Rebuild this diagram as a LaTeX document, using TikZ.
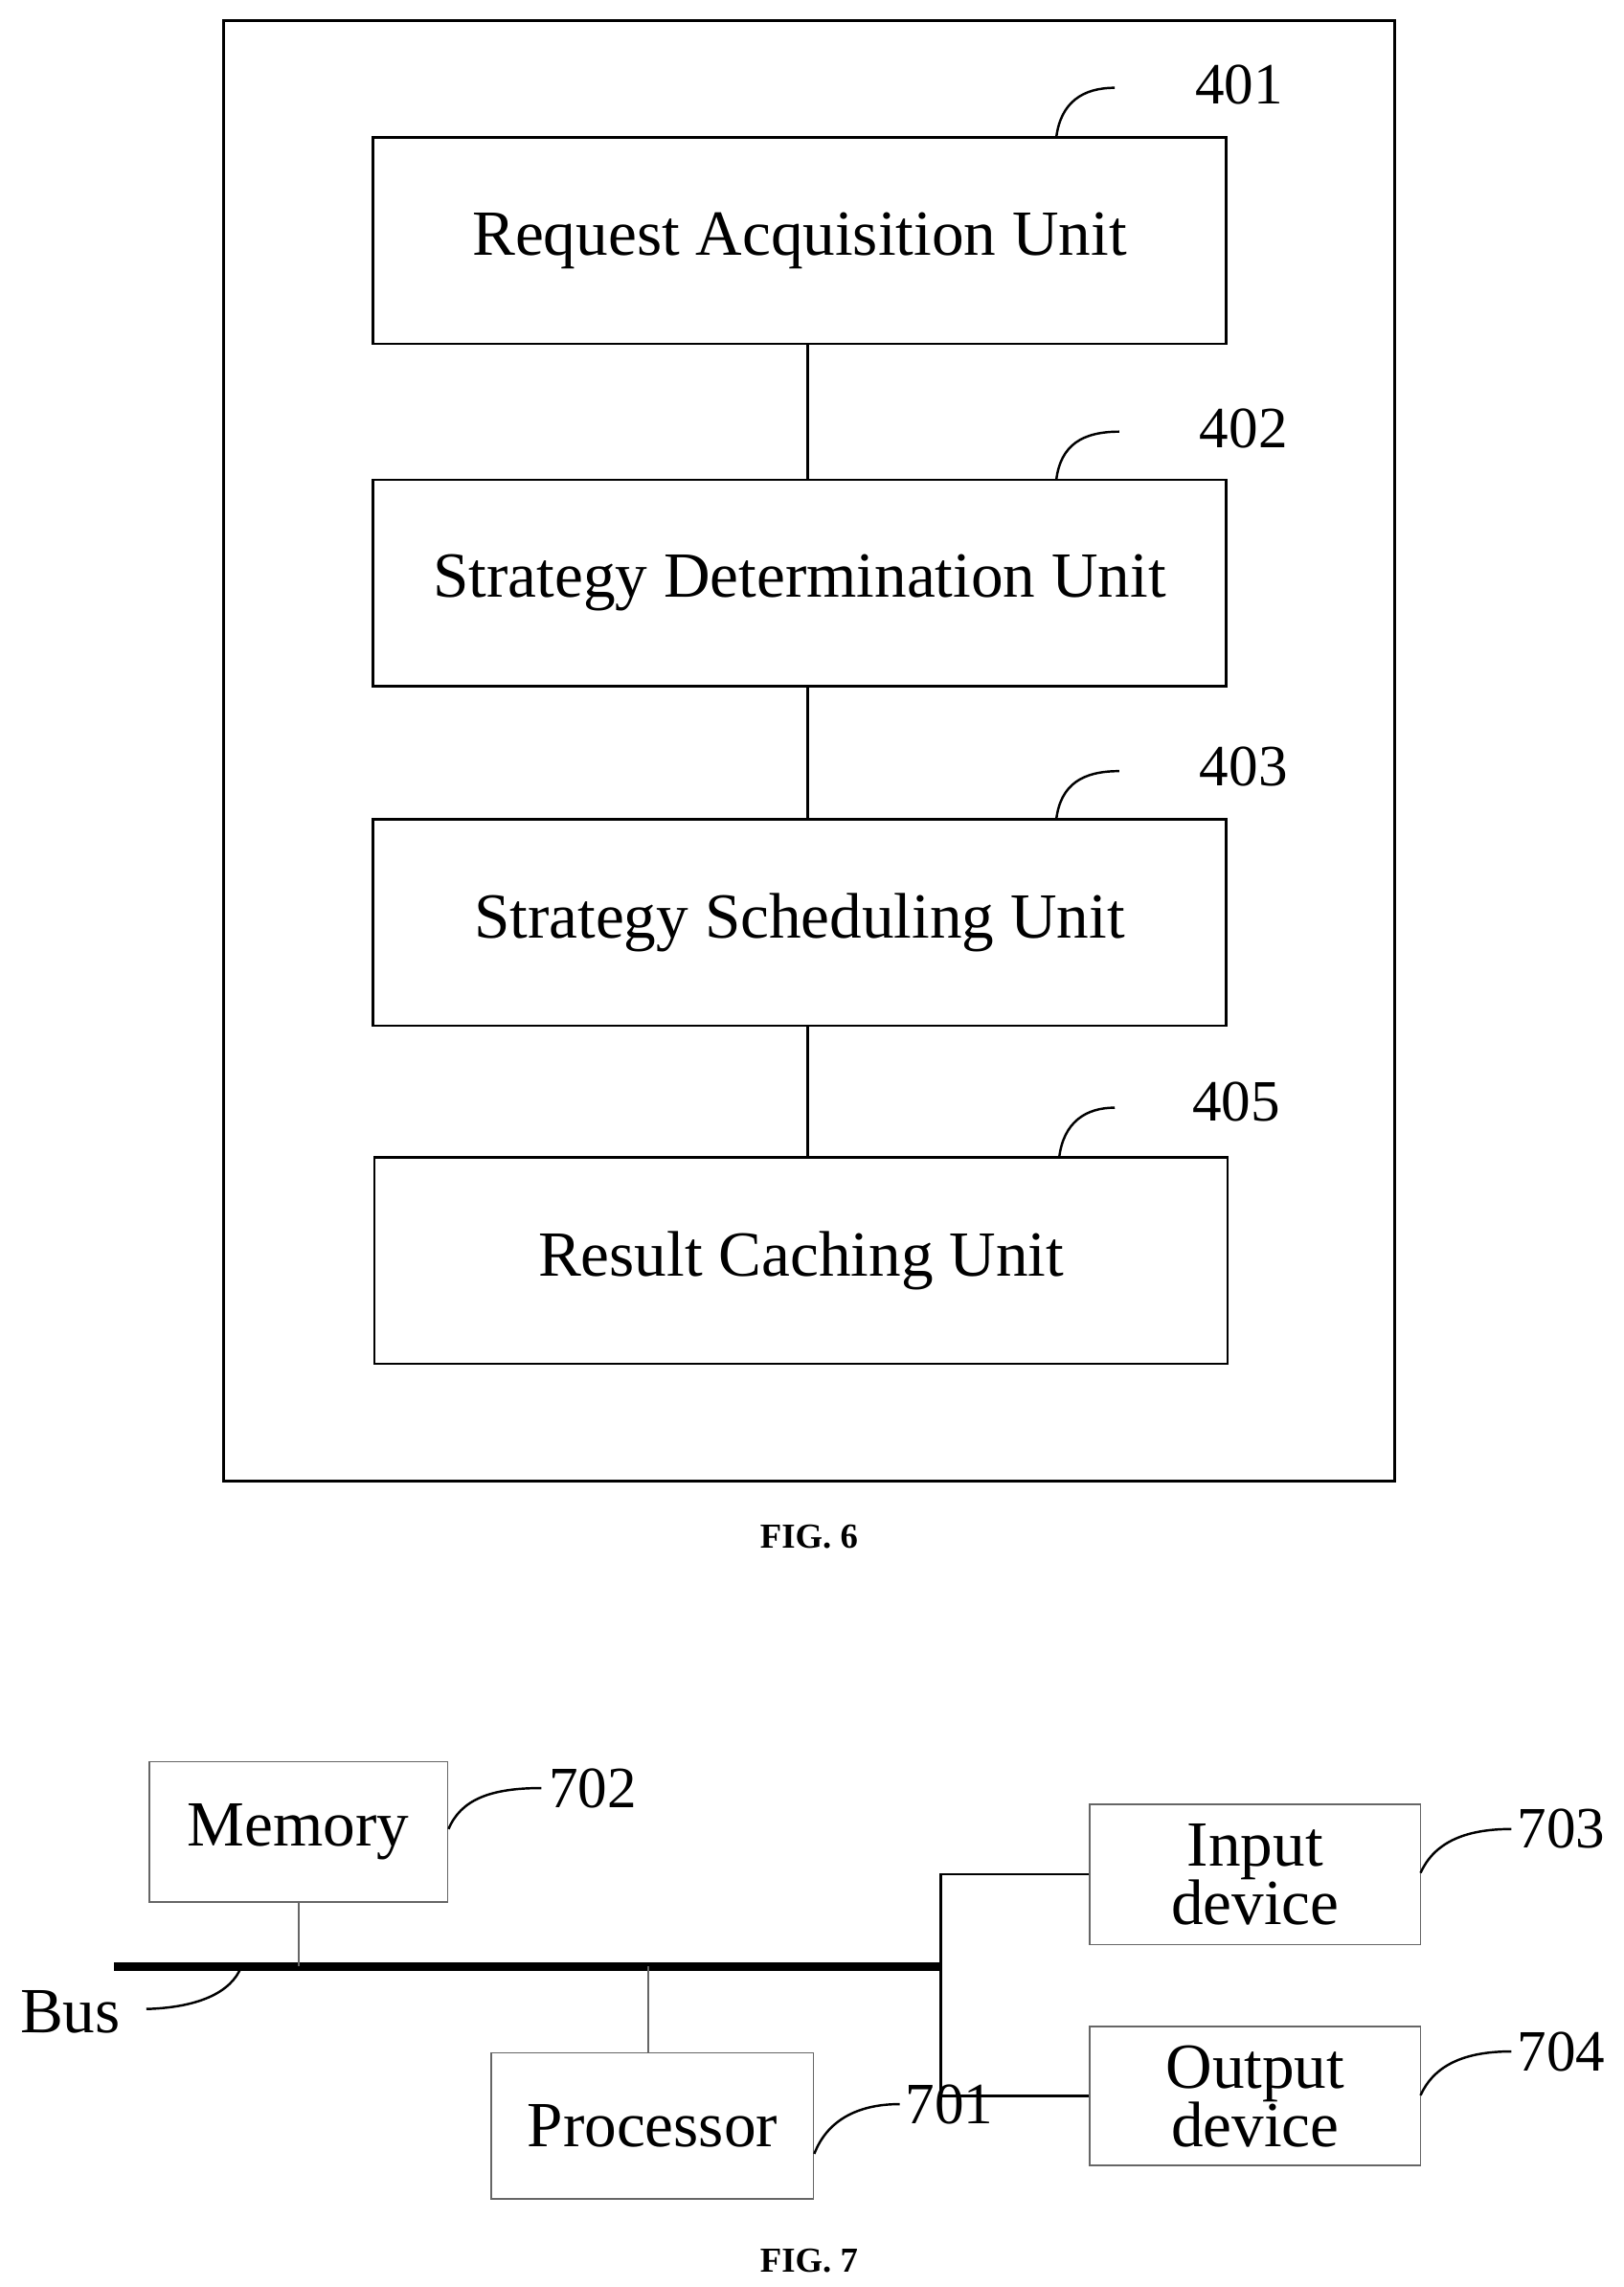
\documentclass[tikz,border=0pt]{standalone}
\usepackage{fontspec}
\setmainfont{Liberation Serif}
\begin{document}
\begin{tikzpicture}[x=0.5pt,y=-0.5pt,
  box/.style={draw,line width=0.8pt},
  gbox/.style={draw=black!60,line width=0.6pt},
  lead/.style={line width=0.8pt},
  txt/.style={font=\fontsize{22}{25}\selectfont,align=center},
  num/.style={font=\fontsize{20}{22}\selectfont,anchor=west},
  figcap/.style={font=\bfseries\fontsize{12}{14}\selectfont}]
\useasboundingbox (0,0) rectangle (1110,1563);
\draw[line width=1pt] (153,14) rectangle (953,1012);
\node[box,minimum width=291.5pt,minimum height=70.5pt,txt] (a) at (546.5,164.5) {Request Acquisition Unit};
\node[box,minimum width=291.5pt,minimum height=70.5pt,txt] (b) at (546.5,398.5) {Strategy Determination Unit};
\node[box,minimum width=291.5pt,minimum height=70.5pt,txt] (c) at (546.5,630.5) {Strategy Scheduling Unit};
\node[box,minimum width=291.5pt,minimum height=70.5pt,txt] (d) at (547.5,861.5) {Result Caching Unit};
\draw[box] (552,235) -- (552,328) (552,469) -- (552,560) (552,701) -- (552,791);
\coordinate (a1) at (722,94); \node[num] (n401) at (810,58) {401};
\draw[lead] (a1) .. controls (725,70) and (740,60) .. (762,60);
\coordinate (b1) at (722,328); \node[num] (n402) at (813,293) {402};
\draw[lead] (b1) .. controls (725,304) and (740,295) .. (765,295);
\coordinate (c1) at (722,560); \node[num] (n403) at (813,524) {403};
\draw[lead] (c1) .. controls (725,536) and (740,527) .. (765,527);
\coordinate (d1) at (724,791); \node[num] (n405) at (808,753) {405};
\draw[lead] (d1) .. controls (727,767) and (742,757) .. (762,757);
\node[figcap] (f6) at (553,1050) {FIG. 6};

\node[gbox,minimum width=102pt,minimum height=48pt,txt] (mem) at (204,1252) {Memory};
\node[gbox,minimum width=110pt,minimum height=50pt,txt] (proc) at (446,1453) {Processor};
\node[gbox,minimum width=113pt,minimum height=48pt,txt,font=\fontsize{22}{20}\selectfont] (in) at (858,1281) {Input\\device};
\node[gbox,minimum width=113pt,minimum height=47.5pt,txt,font=\fontsize{22}{20}\selectfont] (out) at (858,1432.5) {Output\\device};
\coordinate (b0) at (78,1344); \coordinate (bj) at (643,1344);
\draw[line width=3pt] (b0) -- (bj);
\draw[gbox] (mem.south) -- (204,1344) (443,1344) -- (proc.north -| 443,0);
\draw[lead] (in.west) -| (bj) (out.west) -| (bj);
\node[num] (n702) at (368,1222) {702};
\draw[lead] (mem.east |- 0,1250) .. controls (315,1230) and (335,1222) .. (370,1222);
\node[num] (n701) at (612,1438) {701};
\draw[lead] (proc.east |- 0,1472) .. controls (565,1450) and (585,1438) .. (615,1438);
\node[num] (n703) at (1030,1250) {703};
\draw[lead] (971,1280) .. controls (980,1260) and (1000,1250) .. (1033,1250);
\node[num] (n704) at (1030,1402) {704};
\draw[lead] (971,1432) .. controls (980,1412) and (1000,1402) .. (1033,1402);
\node[txt] (bus) at (48,1375) {Bus};
\draw[lead] (100,1373) .. controls (135,1372) and (158,1362) .. (165,1344);
\node[figcap] (f7) at (553,1545) {FIG. 7};
\end{tikzpicture}
\end{document}
